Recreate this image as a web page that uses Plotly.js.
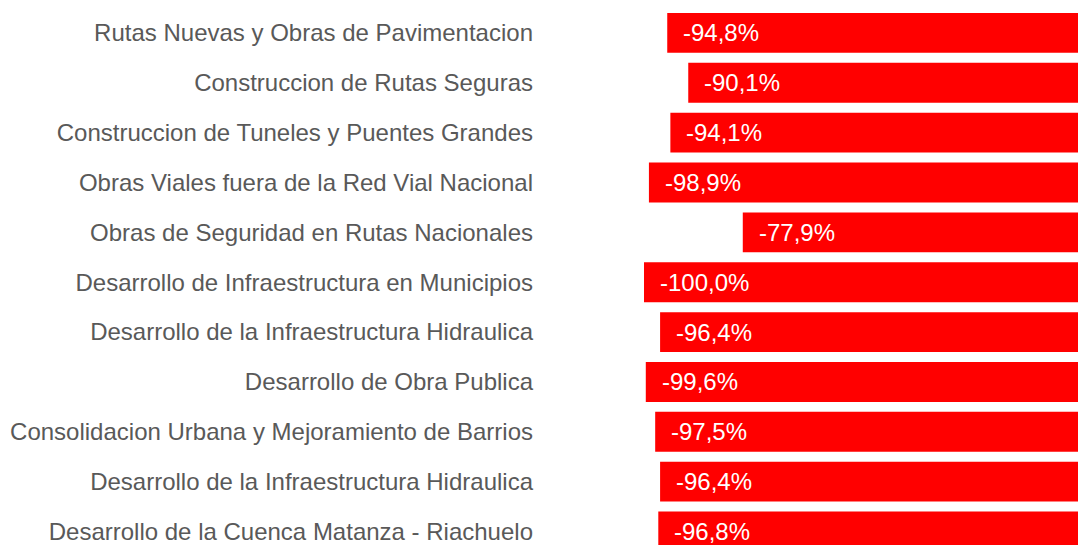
<!DOCTYPE html>
<html><head><meta charset="utf-8">
<script src="https://cdn.plot.ly/plotly-3.0.1.min.js"></script>
<style>html,body{margin:0;padding:0;background:#fff}#c{width:1078px;height:545px}</style>
</head><body><div id="c"></div>
<script>
const categories = [
  "Rutas Nuevas y Obras de Pavimentacion",
  "Construccion de Rutas Seguras",
  "Construccion de Tuneles y Puentes Grandes",
  "Obras Viales fuera de la Red Vial Nacional",
  "Obras de Seguridad en Rutas Nacionales",
  "Desarrollo de Infraestructura en Municipios",
  "Desarrollo de la Infraestructura Hidraulica",
  "Desarrollo de Obra Publica",
  "Consolidacion Urbana y Mejoramiento de Barrios",
  "Desarrollo de la Infraestructura Hidraulica",
  "Desarrollo de la Cuenca Matanza - Riachuelo"
];
const values = [-94.8, -90.1, -94.1, -98.9, -77.9, -100.0, -96.4, -99.6, -97.5, -96.4, -96.8];

const idx = categories.map((_, i) => i);
const fmt = v => v.toFixed(1).replace('.', ',') + '%';

const trace = {
  type: 'bar', orientation: 'h',
  x: values, y: idx,
  marker: {color: '#FF0000'},
  hoverinfo: 'none'
};

const annotations = values.map((v, i) => ({
  x: v, y: i, xref: 'x', yref: 'y',
  text: fmt(v), showarrow: false,
  xanchor: 'left', xshift: 14,
  font: {family: 'Liberation Sans, Arial, sans-serif', size: 24, color: '#ffffff'}
}));

const layout = {
  width: 1078, height: 545,
  margin: {l: 545, r: 0, t: 0, b: 0, pad: 0},
  paper_bgcolor: '#fff', plot_bgcolor: '#fff',
  showlegend: false,
  bargap: 0.2,
  xaxis: {range: [-122.15, -2.9], showgrid: false, zeroline: false, showticklabels: false, showline: false, fixedrange: true},
  yaxis: {
    range: [10.27, -0.66], tickmode: 'array', tickvals: idx, ticktext: categories,
    showgrid: false, zeroline: false, showline: false, ticks: '',
    ticklabelstandoff: 11, ticklabeloverflow: 'allow',
    tickfont: {family: 'Liberation Sans, Arial, sans-serif', size: 24, color: '#595959'}
  },
  annotations: annotations,
  font: {family: 'Liberation Sans, Arial, sans-serif'}
};

Plotly.newPlot('c', [trace], layout, {displayModeBar: false, staticPlot: true});
</script>
</body></html>
